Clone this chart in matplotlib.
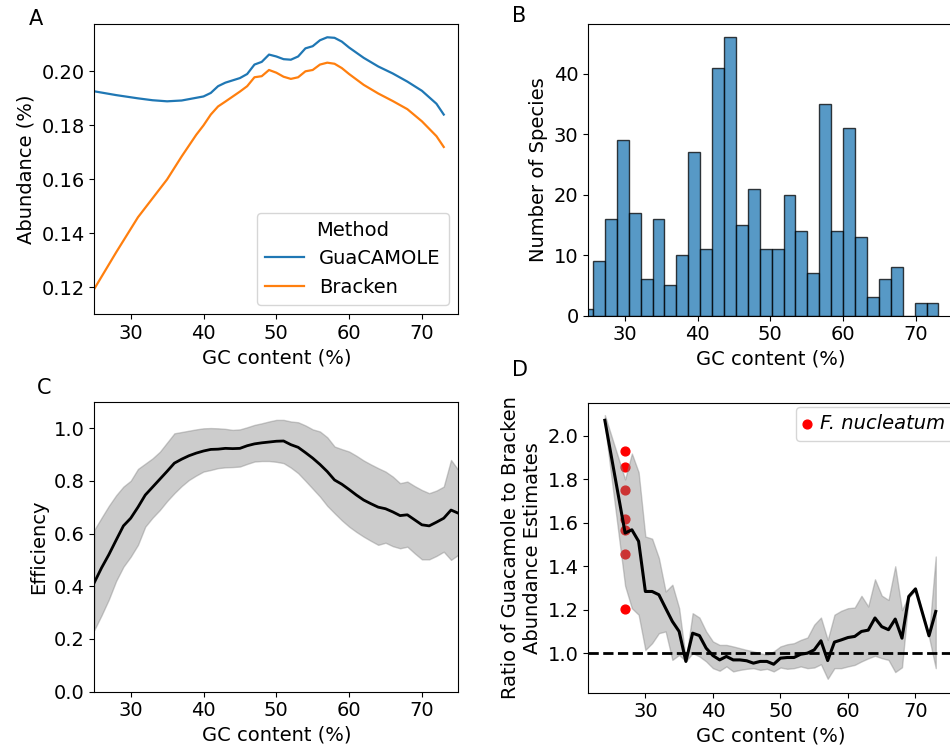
import matplotlib
matplotlib.use("Agg")
import matplotlib.pyplot as plt
import numpy as np

plt.rcParams['font.size'] = 14

# Panel A: smoothed abundance vs GC content
gc_a = [25, 28, 31, 33, 35, 37, 39, 40, 41, 42, 43, 45, 46, 47, 48, 49, 50, 51, 52,
        53, 54, 55, 56, 57, 58, 59, 60, 62, 64, 66, 68, 70, 72, 73]
guacamole = [0.1926, 0.1912, 0.1900, 0.1893, 0.1889, 0.1892, 0.1902, 0.1907, 0.1920,
             0.1945, 0.1958, 0.1975, 0.1990, 0.2025, 0.2035, 0.2062, 0.2055, 0.2045,
             0.2043, 0.2055, 0.2085, 0.2093, 0.2115, 0.2126, 0.2124, 0.2110, 0.2088,
             0.2050, 0.2018, 0.1992, 0.1962, 0.1928, 0.1880, 0.1840]
bracken = [0.1195, 0.1330, 0.1460, 0.1530, 0.1600, 0.1685, 0.1765, 0.1800, 0.1840,
           0.1870, 0.1888, 0.1925, 0.1945, 0.1978, 0.1982, 0.2005, 0.1995, 0.1980,
           0.1972, 0.1978, 0.2000, 0.2005, 0.2025, 0.2032, 0.2028, 0.2012, 0.1990,
           0.1950, 0.1918, 0.1890, 0.1860, 0.1815, 0.1760, 0.1720]

# Panel B: histogram of species GC content (30 bins)
gc_min, gc_max = 24.0, 73.1
species_counts = [1, 9, 16, 29, 17, 6, 16, 5, 10, 27, 11, 41, 46, 15, 21, 11, 11, 20,
                  14, 7, 35, 14, 31, 13, 3, 6, 8, 0, 2, 2]

# Panel C: efficiency
gc_c = list(range(25, 76))
eff_mean = [0.414, 0.47, 0.52, 0.575, 0.629, 0.658, 0.70, 0.746, 0.776, 0.806, 0.836,
            0.867, 0.882, 0.895, 0.905, 0.913, 0.919, 0.920, 0.923, 0.922, 0.923, 0.933,
            0.940, 0.944, 0.947, 0.950, 0.951, 0.937, 0.927, 0.907, 0.886, 0.862, 0.835,
            0.803, 0.787, 0.767, 0.746, 0.727, 0.713, 0.700, 0.694, 0.682, 0.668, 0.671,
            0.652, 0.633, 0.629, 0.643, 0.658, 0.689, 0.677]
eff_upper = [0.614, 0.66, 0.705, 0.745, 0.778, 0.80, 0.845, 0.865, 0.885, 0.91, 0.945,
             0.980, 0.985, 0.990, 0.995, 0.999, 1.0, 0.999, 0.997, 0.993, 0.995, 1.003,
             1.012, 1.018, 1.025, 1.031, 1.031, 1.025, 1.022, 1.010, 0.995, 0.987, 0.965,
             0.930, 0.920, 0.911, 0.895, 0.877, 0.862, 0.848, 0.835, 0.816, 0.791, 0.797,
             0.780, 0.765, 0.753, 0.763, 0.778, 0.879, 0.841]
eff_lower = [0.234, 0.29, 0.35, 0.42, 0.474, 0.512, 0.557, 0.626, 0.660, 0.689, 0.723,
             0.753, 0.780, 0.803, 0.820, 0.835, 0.841, 0.848, 0.851, 0.852, 0.854, 0.864,
             0.873, 0.875, 0.875, 0.872, 0.867, 0.850, 0.829, 0.800, 0.770, 0.740, 0.705,
             0.677, 0.650, 0.626, 0.606, 0.588, 0.572, 0.557, 0.565, 0.552, 0.544, 0.550,
             0.525, 0.502, 0.502, 0.515, 0.531, 0.500, 0.519]

# Panel D: ratio GuaCAMOLE / Bracken
gc_d = [24] + list(range(27, 71)) + [72, 73]
ratio_mean = [2.072, 1.553, 1.568, 1.515, 1.284, 1.284, 1.269, 1.207, 1.146, 1.100,
              0.962, 1.092, 1.081, 1.023, 0.989, 0.969, 0.985, 0.969, 0.969, 0.965,
              0.954, 0.962, 0.962, 0.949, 0.977, 0.980, 0.980, 0.995, 1.000, 1.015,
              1.057, 0.966, 1.051, 1.061, 1.072, 1.077, 1.100, 1.106, 1.162, 1.122,
              1.108, 1.157, 1.069, 1.261, 1.296, 1.080, 1.192]
ratio_upper = [2.096, 1.800, 1.919, 1.833, 1.537, 1.527, 1.438, 1.284, 1.315, 1.207,
               0.969, 1.184, 1.164, 1.100, 1.054, 1.038, 1.038, 1.031, 1.023, 1.015,
               1.008, 1.000, 0.992, 1.008, 1.031, 1.041, 1.046, 1.061, 1.072, 1.131,
               1.164, 1.061, 1.177, 1.195, 1.207, 1.210, 1.264, 1.215, 1.340, 1.265,
               1.245, 1.400, 1.198, 1.265, 1.300, 1.085, 1.445]
ratio_lower = [2.052, 1.310, 1.207, 1.177, 1.015, 1.046, 1.092, 1.100, 0.969, 0.992,
               0.962, 1.000, 0.985, 0.962, 0.931, 0.919, 0.939, 0.916, 0.923, 0.928,
               0.931, 0.923, 0.928, 0.916, 0.934, 0.928, 0.931, 0.939, 0.931, 0.934,
               0.949, 0.882, 0.931, 0.931, 0.939, 0.946, 0.962, 0.976, 0.988, 0.977,
               0.969, 0.913, 0.935, 1.255, 1.290, 1.075, 0.931]
fn_gc = [27, 27, 27, 27, 27, 27, 27]
fn_ratio = [1.932, 1.857, 1.753, 1.619, 1.565, 1.458, 1.204]

W, H = 950, 751
fig = plt.figure(figsize=(W / 100, H / 100), dpi=100)


def px_axes(left, top, right, bottom):
    return fig.add_axes([left / W, 1 - bottom / H, (right - left) / W, (bottom - top) / H])


axA = px_axes(94.3, 23.5, 458.3, 314.5)
axB = px_axes(588.3, 23.5, 952.3, 315.5)
axC = px_axes(94.3, 401.7, 458.3, 691.7)
axD = px_axes(588.3, 402.7, 952.3, 692.7)

# A
axA.plot(gc_a, guacamole, color='tab:blue', lw=1.6, label='GuaCAMOLE')
axA.plot(gc_a, bracken, color='tab:orange', lw=1.6, label='Bracken')
axA.set_xlim(25, 75)
axA.set_ylim(0.110, 0.2177)
axA.set_yticks([0.12, 0.14, 0.16, 0.18, 0.20])
axA.set_xticks([30, 40, 50, 60, 70])
axA.set_xlabel('GC content (%)')
axA.set_ylabel('Abundance (%)')
axA.legend(title='Method', loc='lower right', fontsize=14, title_fontsize=14)

# B
edges = np.linspace(gc_min, gc_max, len(species_counts) + 1)
axB.bar(edges[:-1], species_counts, width=np.diff(edges), align='edge',
        color='#1f77b4', edgecolor='black', linewidth=1, alpha=0.75)
axB.set_xlim(25, 75)
axB.set_ylim(0, 48.3)
axB.set_xticks([30, 40, 50, 60, 70])
axB.set_yticks([0, 10, 20, 30, 40])
axB.set_xlabel('GC content (%)')
axB.set_ylabel('Number of Species')

# C
axC.fill_between(gc_c, eff_lower, eff_upper, color='gray', alpha=0.4)
axC.plot(gc_c, eff_mean, color='black', lw=2)
axC.set_xlim(25, 75)
axC.set_ylim(0, 1.1)
axC.set_xticks([30, 40, 50, 60, 70])
axC.set_yticks([0.0, 0.2, 0.4, 0.6, 0.8, 1.0])
axC.set_xlabel('GC content (%)')
axC.set_ylabel('Efficiency')

# D
axD.scatter(fn_gc, fn_ratio, color='red', s=40, label='F. nucleatum', zorder=1)
axD.fill_between(gc_d, ratio_lower, ratio_upper, color='gray', alpha=0.4, zorder=2)
axD.plot(gc_d, ratio_mean, color='black', lw=2.2, zorder=3)
axD.axhline(1.0, color='black', linestyle='--', lw=2, zorder=3)
axD.set_xlim(21.55, 75.45)
axD.set_ylim(0.818, 2.153)
axD.set_xticks([30, 40, 50, 60, 70])
axD.set_yticks([1.0, 1.2, 1.4, 1.6, 1.8, 2.0])
axD.set_xlabel('GC content (%)')
axD.set_ylabel('Ratio of Guacamole to Bracken\nAbundance Estimates')
leg = axD.legend(loc='upper left', bbox_to_anchor=(796 / W, 1 - 406.7 / H),
                 bbox_transform=fig.transFigure, borderaxespad=0,
                 handlelength=0.3, handletextpad=0.55, fontsize=14)
for t in leg.get_texts():
    t.set_fontstyle('italic')

# panel letters
for letter, x, y in [('A', 35.5, 19.3), ('B', 519, 16.5), ('C', 44, 387.5), ('D', 520, 370)]:
    fig.text(x / W, 1 - y / H, letter, fontsize=15, ha='center', va='center')

fig.savefig('out.png', dpi=100)
